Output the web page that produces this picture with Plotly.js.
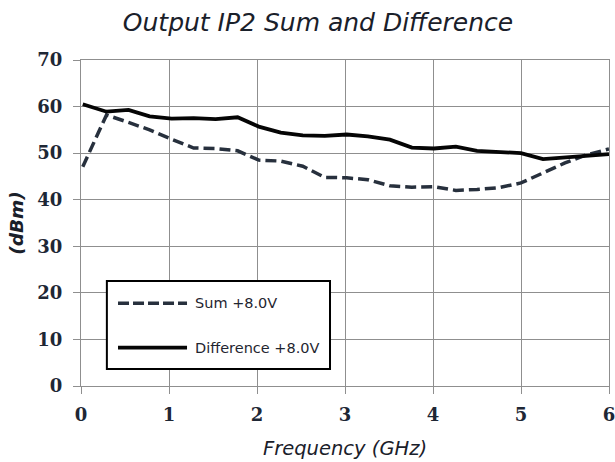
<!DOCTYPE html>
<html>
<head>
<meta charset="utf-8">
<script src="https://cdn.plot.ly/plotly-3.0.1.min.js"></script>
<style>
html,body{margin:0;padding:0;background:#fff;}
#chart{width:615px;height:462px;}
</style>
</head>
<body>
<div id="chart"></div>
<script>
// Frequency (GHz)
var freq = [0.02, 0.29, 0.54, 0.78, 1.03, 1.28, 1.53, 1.78, 2.02, 2.27, 2.52, 2.77, 3.02, 3.26, 3.51, 3.76, 4.01, 4.26, 4.50, 4.75, 5.00, 5.25, 5.50, 5.74, 6.00];
// Output IP2 (dBm)
var sumValues = [47.1, 58.2, 56.6, 55.0, 53.0, 51.1, 51.0, 50.5, 48.5, 48.3, 47.2, 44.8, 44.7, 44.3, 43.0, 42.7, 42.8, 42.0, 42.2, 42.6, 43.6, 45.8, 47.9, 49.6, 50.9];
var diffValues = [60.5, 58.9, 59.3, 57.9, 57.4, 57.5, 57.3, 57.7, 55.7, 54.4, 53.8, 53.7, 54.0, 53.6, 52.9, 51.2, 51.0, 51.4, 50.5, 50.3, 50.0, 48.7, 49.0, 49.3, 49.8];
var seriesNames = ["Sum +8.0V", "Difference +8.0V"];
var xTicks = [0, 1, 2, 3, 4, 5, 6];
var yTicks = [0, 10, 20, 30, 40, 50, 60, 70];

var sumColor = "#27303d";
var diffColor = "#050505";
var gridColor = "#8f8f8f";
var tickFont = {family: "DejaVu Serif", size: 18, color: "#1e2735", weight: "bold"};

var traces = [
  {x: freq, y: sumValues, name: seriesNames[0], type: "scatter", mode: "lines",
   line: {color: sumColor, width: 3.5, dash: "11px,5px"}},
  {x: freq, y: diffValues, name: seriesNames[1], type: "scatter", mode: "lines",
   line: {color: diffColor, width: 3.8}}
];

// legend box geometry (paper coords)
var lx0 = 0.049, lx1 = 0.4716, ly0 = 0.052, ly1 = 0.322;
var sx0 = 0.0701, sx1 = 0.2008, tx = 0.2121;
var rowY = [0.2537, 0.1175];

var layout = {
  width: 615, height: 462,
  margin: {l: 81, r: 6, t: 60, b: 76, pad: 0},
  paper_bgcolor: "#fff", plot_bgcolor: "#fff",
  showlegend: false,
  title: {text: "Output IP2 Sum and Difference", x: 318/615, xref: "container", xanchor: "center",
          y: 1 - 22/462, yref: "container", yanchor: "middle",
          font: {family: "DejaVu Sans", size: 25, style: "italic", color: "#1a202a"}},
  xaxis: {range: [0, 6], tickvals: xTicks, ticktext: xTicks.map(String),
          showgrid: true, gridcolor: gridColor, gridwidth: 1,
          showline: true, linecolor: gridColor, linewidth: 1, mirror: true,
          ticks: "outside", ticklen: 7, tickcolor: gridColor, tickwidth: 1,
          tickfont: tickFont, zeroline: false, ticklabelstandoff: 5, ticklabeloverflow: "allow",
          automargin: false,
          title: {text: "Frequency (GHz)", standoff: 17,
                  font: {family: "DejaVu Sans", size: 19.5, style: "italic", color: "#1a202a"}}},
  yaxis: {range: [0, 70], tickvals: yTicks, ticktext: yTicks.map(String),
          showgrid: true, gridcolor: gridColor, gridwidth: 1,
          showline: true, linecolor: gridColor, linewidth: 1, mirror: true,
          ticks: "outside", ticklen: 7, tickcolor: gridColor, tickwidth: 1,
          tickfont: tickFont, zeroline: false, ticklabelstandoff: 7, ticklabeloverflow: "allow",
          automargin: false,
          title: {text: "(dBm)", standoff: 8,
                  font: {family: "DejaVu Sans", size: 18.5, style: "italic", weight: "bold", color: "#1a202a"}}},
  shapes: [
    {type: "rect", xref: "paper", yref: "paper", x0: lx0, x1: lx1, y0: ly0, y1: ly1,
     fillcolor: "#fff", line: {color: "#000", width: 2}, layer: "above"},
    {type: "line", xref: "paper", yref: "paper", x0: sx0, x1: sx1, y0: rowY[0], y1: rowY[0],
     line: {color: sumColor, width: 3.5, dash: "11px,4px"}, layer: "above"},
    {type: "line", xref: "paper", yref: "paper", x0: sx0, x1: sx1, y0: rowY[1], y1: rowY[1],
     line: {color: diffColor, width: 3.8}, layer: "above"}
  ],
  annotations: [
    {xref: "paper", yref: "paper", x: tx, y: rowY[0], xanchor: "left", yanchor: "middle",
     text: seriesNames[0], showarrow: false, font: {family: "DejaVu Sans", size: 14.5, color: "#1f2530"}},
    {xref: "paper", yref: "paper", x: tx, y: rowY[1], xanchor: "left", yanchor: "middle",
     text: seriesNames[1], showarrow: false, font: {family: "DejaVu Sans", size: 14.5, color: "#1f2530"}}
  ]
};

Plotly.newPlot("chart", traces, layout, {displayModeBar: false, staticPlot: true});
</script>
</body>
</html>
